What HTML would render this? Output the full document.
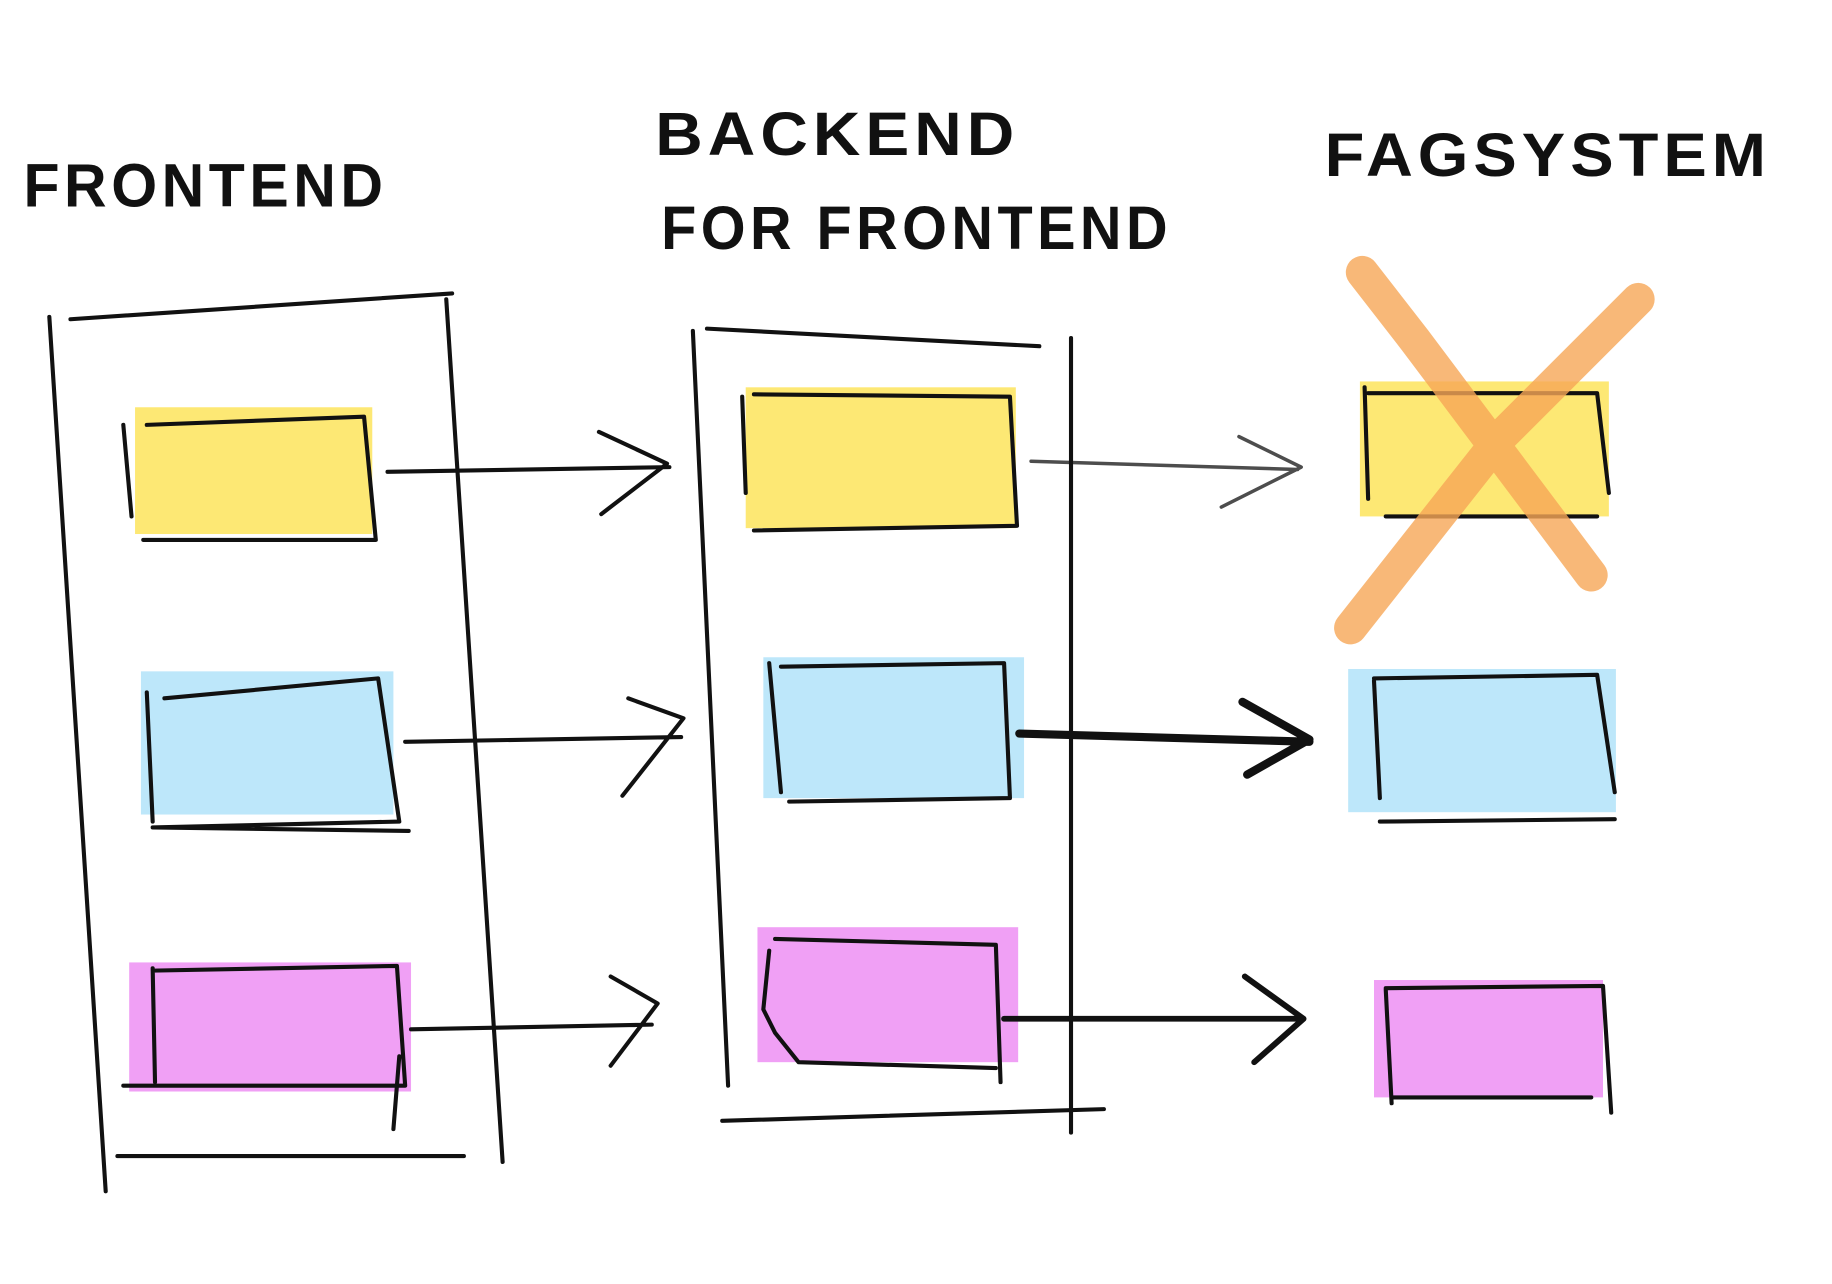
<!DOCTYPE html>
<html><head><meta charset="utf-8"><style>
html,body{margin:0;padding:0;background:#fff;}
svg{display:block}
text{font-family:"Liberation Sans",sans-serif;font-weight:bold;fill:#111}
</style></head><body>
<svg width="1832" height="1284" viewBox="0 0 1560 1094" preserveAspectRatio="none" xmlns="http://www.w3.org/2000/svg">
<rect width="1560" height="1094" fill="#fff"/>
<g font-size="52" letter-spacing="4">
<text x="20" y="176" textLength="310" lengthAdjust="spacingAndGlyphs">FRONTEND</text>
<text x="558" y="132" textLength="310" lengthAdjust="spacingAndGlyphs">BACKEND</text>
<text x="563" y="212" textLength="435" lengthAdjust="spacingAndGlyphs">FOR FRONTEND</text>
<text x="1128" y="150" textLength="380" lengthAdjust="spacingAndGlyphs">FAGSYSTEM</text>
</g>
<!-- fills -->
<g>
<rect x="115" y="347" width="202" height="108" fill="#fde874"/>
<rect x="120" y="572" width="215" height="122" fill="#bde7fa"/>
<rect x="110" y="820" width="240" height="110" fill="#f0a0f5"/>
<rect x="635" y="330" width="230" height="120" fill="#fde874"/>
<rect x="650" y="560" width="222" height="120" fill="#bde7fa"/>
<rect x="645" y="790" width="222" height="115" fill="#f0a0f5"/>
<rect x="1158" y="325" width="212" height="115" fill="#fde874"/>
<rect x="1148" y="570" width="228" height="122" fill="#bde7fa"/>
<rect x="1170" y="835" width="195" height="100" fill="#f0a0f5"/>
</g>
<g fill="none" stroke="#111" stroke-width="3.5" stroke-linecap="round" stroke-linejoin="round">
<!-- frontend container -->
<path d="M60 272 L385 250"/><path d="M42 270 L90 1015"/><path d="M380 255 L428 990"/><path d="M100 985 L395 985"/>
<!-- frontend boxes -->
<path d="M105 362 L112 440 M125 362 L310 355 L320 460 L122 460"/>
<path d="M125 590 L130 700 M140 595 L322 578 L340 700 L130 705 L348 708"/>
<path d="M130 825 L132 922 M130 827 L338 823 L345 925 L105 925 M340 900 L335 962"/>
<!-- arrows frontend->backend -->
<path d="M330 402 L570 398 M510 368 L568 395 L512 438"/>
<path d="M345 632 L580 628 M535 595 L582 612 L530 678"/>
<path d="M350 877 L555 873 M520 832 L560 855 L520 908"/>
<!-- backend container -->
<path d="M602 280 L885 295"/><path d="M590 282 L620 925"/><path d="M912 288 L912 965"/><path d="M615 955 L940 945"/>
<path d="M632 338 L635 420 M642 336 L860 338 L866 448 L642 452"/>
<path d="M655 565 L665 675 M665 568 L855 565 L860 680 L672 683"/>
<path d="M660 800 L848 805 L852 922 M655 810 L650 860 L660 880 L680 905 L848 910"/>
<!-- arrows backend->fagsystem -->
<path d="M878 393 L1105 400 M1055 372 L1108 398 L1040 432" stroke-width="3" opacity="0.75"/>
<path d="M868 625 L1115 632 M1058 598 L1115 630 L1062 660" stroke-width="7"/>
<path d="M855 868 L1110 868 M1060 832 L1110 868 L1068 905" stroke-width="5"/>
<!-- fagsystem boxes -->
<path d="M1162 330 L1165 425 M1165 335 L1360 335 L1370 420 M1180 440 L1360 440" />
<path d="M1170 580 L1175 680 M1170 578 L1360 575 L1375 675 M1175 700 L1375 698"/>
<path d="M1180 843 L1185 940 M1180 842 L1365 840 L1372 948 M1185 935 L1355 935"/>
</g>
<!-- orange X -->
<g stroke="#f7a757" stroke-width="28" stroke-linecap="round" opacity="0.8" fill="none">
<path d="M1160 232 L1205 290 L1355 490"/>
<path d="M1395 255 L1280 370 L1150 535"/>
</g>
</svg>
</body></html>
